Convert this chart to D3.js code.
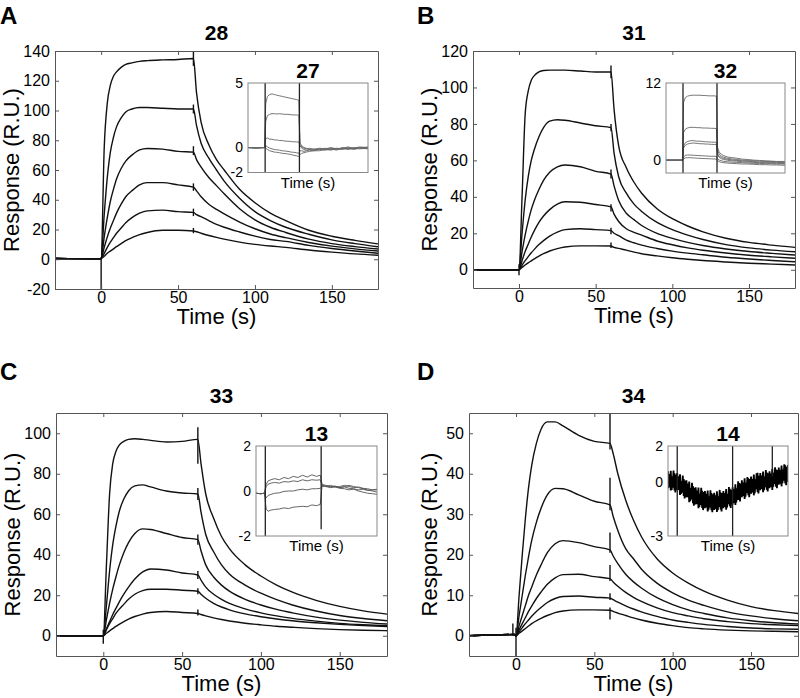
<!DOCTYPE html>
<html><head><meta charset="utf-8">
<script src="https://cdn.jsdelivr.net/npm/d3@7"></script>
<style>
body{margin:0;background:#fff}
svg{display:block}
</style>
</head><body>
<svg id="chart" width="800" height="698"></svg>
<script>
const FONT = '"Liberation Sans", Arial, Helvetica, sans-serif';

// ---------- main sensorgram data ----------
const tMain = [-30,-1,0, 2,4,6,8,10,13,16,20,25,30,40,50,60, 62,65,70,75,80,90,100,110,120,135,150,165,180];
const xTicksMain = [0,50,100,150];

const curves28 = [
  [0.5,0.3,0.5, 75,105,117,123,126,129,131,132,133,133.5,134,134.3,135, 112,92,77,67,60,47,38,31,26,19.5,15.5,12.7,10.3],
  [0.5,0.3,0.5, 30,55,72,82,89,95,99,101,102,102,101.5,101,101, 90,78,68,60,52.5,41,32,26,21.5,16.8,13,10.5,8.4],
  [0.5,0.3,0.5, 15,28,39,47,54,61,66,70,73.5,74.5,74,72.5,72, 67,62,55,49.5,44,34,26.5,21.5,18,13.5,10.5,8.5,6.9],
  [0.5,0.3,0.5, 8,15,21,26,31,37,42,46,50,51.5,51.5,50,48.5, 46,42,37,33.5,30.5,25,20.5,17,14.5,11.3,8.8,7,5.5],
  [0.5,0.3,0.5, 4,8,11.5,14.5,17.5,21,24.5,28,31,32.5,33,32,31.5, 30,28.6,26,23.5,21.5,18.3,15.5,13.3,12,9.3,7.2,5.5,4.0],
  [0.5,0.3,0.5, 2,4,5.5,7,8.5,10.5,12.5,14.5,16.5,18,19.5,19.5,19, 18.5,17.5,16,14.7,13.5,11.5,10,8.9,8,6.2,4.8,3.6,2.7]
];
const curves31 = [
  [0,0,0, 40,85,98,104,106.5,108.5,109.3,109.5,109.5,109.5,109,108.5,108.5, 88,68,56,48,42,33.5,28,24,20.8,17.3,15,13.5,12.3],
  [0,0,0, 20,38,51,60,66,73,78,81.5,82.3,82,80.5,79,78, 64,51,42,36,32,26,22,19,16.6,13.8,12,10.8,9.9],
  [0,0,0, 10,19,26.5,33,38,44,49,53.5,56.5,57.5,56.5,54,52.5, 46,38,31,27.5,24.3,20,17.2,15,13.3,11.4,10,9,8.1],
  [0,0,0, 5,10,14,18,21.5,26,29.5,33,36,37.3,37,35.8,34.5, 30.5,26.5,22.5,20.5,19,15.8,13.7,12,10.7,9.2,8,7.1,6.3],
  [0,0,0, 2.5,5,7.2,9.3,11.2,13.8,16,18.5,20.7,22,22.5,22,21.5, 20,18.7,16.2,14.8,13.5,11.7,10.2,9.1,8.2,6.9,5.9,5.1,4.4],
  [0,0,0, 1.3,2.6,3.8,4.9,6,7.5,8.8,10.3,11.6,12.5,13.1,13.1,13, 12.3,11.7,10.8,9.7,8.8,7.6,6.6,5.8,5.1,4.3,3.6,3.1,2.6]
];
const curves33 = [
  [0,0,0, 35,70,85,91,94,96,97,97.3,97,96.5,95.7,96,97, 85,70,58,49,43,35,29.5,25,21.5,17.5,14.5,12.3,10.7],
  [0,0,0, 15,32,45,54,61,67.5,71.5,74,74.5,73.5,71.5,70.5,70, 61,50,41.5,35,30.5,25,21,17.8,15.2,12.2,10,8.5,7.4],
  [0,0,0, 8,16,23,29,34.5,41,46,50.5,52.8,52.5,50.5,48.5,47.5, 42,35,29,25,22,18,15.2,13,11.3,9.2,7.7,6.6,5.8],
  [0,0,0, 3.5,7,10.5,13.5,16.5,20.5,24,28,31.5,33,32.5,31,30, 27.5,24,20.5,18,16,13.3,11.3,9.8,8.6,7.2,6.1,5.4,4.9],
  [0,0,0, 3,6,8.5,11,13,15.5,18,20.5,22.3,23,23,22.5,22, 20.5,18.5,16,14.2,12.8,10.8,9.4,8.3,7.4,6.4,5.6,5,4.6],
  [0,0,0, 1.2,2.4,3.5,4.6,5.6,7,8.2,9.5,10.7,11.5,12,11.5,11, 10.5,9.8,8.8,8,7.3,6.2,5.4,4.7,4.2,3.5,3,2.7,2.5]
];
const curves34 = [
  [0,0.3,0, 10,20,29,36.5,42,47.5,51,52.8,52.8,51.8,49.5,48,47.5, 45,40,33.5,28.5,24.5,19,15.5,13,11,8.8,7.2,6.2,5.5],
  [0,0.3,0, 5,10,15,19.5,23.5,28,31.5,34.8,36.4,36.3,34.8,33.2,32.3, 29.5,26,21.5,19,16.5,13,10.6,8.8,7.5,5.9,4.9,4.2,3.7],
  [0,0.3,0, 2.5,5,7.5,10,12,15,17.5,20.5,22.7,23.5,23,22,21.2, 19.7,17.8,15.2,13.3,11.8,9.4,7.7,6.4,5.5,4.4,3.7,3.2,2.9],
  [0,0.3,0, 1.5,3,4.5,6,7.3,9.2,10.8,12.7,14.3,15.1,15.2,14.6,14.1, 13.3,12.2,10.7,9.5,8.5,6.9,5.7,4.9,4.2,3.5,3,2.7,2.5],
  [0,0.3,0, 1,2,3,3.9,4.8,6,7,8.2,9.2,9.7,9.8,9.5,9.3, 8.9,8.3,7.4,6.6,5.9,4.8,3.9,3.3,2.8,2.3,1.9,1.7,1.6],
  [0,0.3,0, 0.6,1.2,1.8,2.4,3,3.7,4.3,5,5.7,6.1,6.4,6.4,6.3, 6,5.6,5,4.4,3.9,3.1,2.5,2,1.7,1.4,1.2,1.1,1.0]
];
// injection artefacts: [time, from, to]
const spikes28 = [[0,-20,1],[60,130,140],[60,98,104],[60,70,76],[60,46,51],[60,29,34],[60,17.5,21]];
const spikes31 = [[0,-3,3],[60,105,112],[60,76,80],[60,50,55],[60,32,36],[60,19.5,23],[60,12,15]];
const spikes33 = [[0,-4,3],[60,85,103],[60,67,73],[60,45,50],[60,28,32],[60,20.5,23.5],[60,10,13]];
const spikes34 = [[-2,0,3],[0,-5,2],[60,46,55],[60,31,39],[60,20.5,25.5],[60,13.5,17.5],[60,8.8,10.5],[60,4,7]];

const yTicks28 = [-20,0,20,40,60,80,100,120,140];
const yTicks31 = [0,20,40,60,80,100,120];
const yTicks33 = [0,20,40,60,80,100];
const yTicks34 = [0,10,20,30,40,50];

// ---------- inset data ----------
const tInsetAB = [-30,-15,-1, 1,4,8,12,16,20,25,30,35,40,45,50,55,59, 61,64,68,72,78,85,95,105,115,125,135,145,155,165,180];
const inset27 = [
  [-0.05,-0.08,-0.05, 3.4,3.95,4.1,4.15,4.1,4.05,4.0,3.95,3.9,3.85,3.8,3.75,3.7,3.65, 0.2,0.0,-0.1,-0.15,-0.1,-0.2,-0.1,-0.15,-0.05,-0.15,-0.1,0.0,-0.1,0.0,-0.05],
  [-0.05,-0.08,-0.05, 2.0,2.45,2.55,2.6,2.6,2.58,2.6,2.57,2.55,2.55,2.52,2.5,2.5,2.48, 0.3,0.1,-0.05,-0.1,-0.2,-0.15,-0.2,-0.1,-0.2,-0.1,-0.15,-0.05,-0.15,-0.05,-0.1],
  [-0.05,-0.08,-0.05, 0.65,0.7,0.6,0.6,0.55,0.55,0.5,0.5,0.45,0.45,0.42,0.4,0.4,0.38, 0.1,-0.1,-0.2,-0.25,-0.2,-0.25,-0.15,-0.2,-0.1,-0.2,-0.05,-0.15,-0.05,-0.1,0.0],
  [-0.05,-0.08,-0.05, 0.1,0.0,-0.1,-0.15,-0.2,-0.22,-0.25,-0.3,-0.32,-0.35,-0.4,-0.42,-0.45,-0.5, -0.3,-0.3,-0.35,-0.3,-0.25,-0.3,-0.2,-0.25,-0.15,-0.25,-0.1,-0.2,-0.1,-0.15,-0.1],
  [-0.05,-0.08,-0.05, -0.1,-0.2,-0.3,-0.35,-0.4,-0.42,-0.45,-0.5,-0.52,-0.55,-0.6,-0.65,-0.7,-0.75, -0.6,-0.5,-0.45,-0.4,-0.35,-0.3,-0.3,-0.2,-0.25,-0.15,-0.2,-0.1,-0.2,-0.1,-0.15]
];
const inset32 = [
  [0,0,0, 9.0,9.7,9.95,10.05,10.1,10.1,10.1,10.1,10.05,10.05,10.0,10.0,10.0,9.95, 2.0,1.2,0.9,0.7,0.5,0.4,0.3,0.15,0.1,0.0,-0.05,-0.1,-0.15,-0.2,-0.2],
  [0,0,0, 4.3,4.8,5.0,5.1,5.1,5.1,5.05,5.05,5.0,5.0,4.98,4.95,4.95,4.9, 1.5,0.9,0.6,0.45,0.3,0.2,0.1,0.0,-0.05,-0.1,-0.15,-0.2,-0.2,-0.25,-0.3],
  [0,0,0, 2.2,2.7,2.9,3.0,3.05,3.0,2.95,2.95,2.9,2.85,2.85,2.8,2.8,2.75, 1.0,0.6,0.4,0.25,0.15,0.05,-0.05,-0.1,-0.2,-0.2,-0.3,-0.3,-0.35,-0.35,-0.4],
  [0,0,0, 1.9,2.3,2.5,2.6,2.65,2.65,2.6,2.55,2.55,2.5,2.5,2.45,2.45,2.4, 0.8,0.4,0.2,0.1,0.0,-0.1,-0.15,-0.25,-0.3,-0.35,-0.4,-0.4,-0.45,-0.5,-0.5],
  [0,0,0, 0.5,0.75,0.8,0.8,0.78,0.75,0.72,0.7,0.68,0.65,0.62,0.6,0.6,0.58, 0.2,0.0,-0.1,-0.2,-0.25,-0.3,-0.35,-0.4,-0.45,-0.5,-0.5,-0.55,-0.55,-0.6,-0.6],
  [0,0,0, 0.2,0.35,0.38,0.38,0.36,0.34,0.3,0.28,0.26,0.24,0.22,0.2,0.18,0.15, -0.1,-0.25,-0.35,-0.4,-0.45,-0.5,-0.55,-0.6,-0.6,-0.65,-0.7,-0.7,-0.75,-0.75,-0.8]
];
const tInsetC = [-10,-5,-1, 1,3,6,10,15,20,25,30,35,40,45,50,55,59, 61,65,70,75,80,85,90,95,100,105,110,115,120];
const inset13 = [
  [-0.1,-0.12,-0.1, 0.3,0.45,0.5,0.55,0.5,0.6,0.55,0.65,0.6,0.7,0.62,0.72,0.65,0.7, 0.3,0.25,0.2,0.22,0.15,0.2,0.25,0.2,0.15,0.1,0.05,0.0,-0.05],
  [-0.1,-0.12,-0.1, 0.2,0.3,0.35,0.38,0.35,0.42,0.4,0.45,0.42,0.5,0.45,0.5,0.48,0.5, 0.25,0.2,0.25,0.18,0.2,0.25,0.2,0.15,0.18,0.12,0.1,0.05,0.05],
  [-0.1,-0.12,-0.1, -0.3,-0.2,-0.15,-0.1,-0.08,-0.02,0.0,0.0,0.05,0.08,0.05,0.1,0.1,0.12, 0.2,0.22,0.18,0.2,0.15,0.18,0.12,0.1,0.05,0.08,0.02,0.05,0.08],
  [-0.1,-0.12,-0.1, -0.8,-0.9,-0.85,-0.82,-0.8,-0.75,-0.78,-0.72,-0.7,-0.68,-0.7,-0.62,-0.65,-0.6, 0.25,0.2,0.15,0.18,0.12,0.1,0.05,0.08,0.0,-0.05,-0.1,-0.12,-0.15]
];
const tInsetD = d3.range(-10, 121);
const inset14a = [0.6,-0.3,0.38,-0.47,0.26,-0.25,0.64,-0.47,0.42,-0.19,
  0.5,-0.44,0.22,-0.72,0.04,-0.5,0.36,-0.78,0.08,-0.56,
  0.1,-0.84,-0.18,-1.12,-0.36,-0.9,-0.04,-1.18,-0.32,-0.96,
  -0.3,-1.22,-0.54,-1.46,-0.68,-1.2,-0.32,-1.44,-0.56,-1.18,
  -0.5,-1.41,-0.72,-1.63,-0.84,-1.35,-0.46,-1.57,-0.68,-1.29,
  -0.6,-1.49,-0.78,-1.67,-0.86,-1.35,-0.44,-1.53,-0.62,-1.21,
  -0.5,-1.38,-0.66,-1.54,-0.72,-1.2,-0.28,-1.34,-0.44,-1.02,
  -0.3,-1.16,-0.42,-1.28,-0.44,-0.9,0.04,-0.98,-0.08,-0.64,
  0.1,-0.78,-0.06,-0.94,-0.12,-0.6,0.28,-0.74,0.16,-0.42,
  0.3,-0.58,0.14,-0.74,0.08,-0.4,0.48,-0.56,0.34,-0.22,
  0.5,-0.39,0.32,-0.57,0.24,-0.25,0.66,-0.43,0.48,-0.11,
  0.6,-0.28,0.44,-0.44,0.38,-0.1,0.82,-0.26,0.66,0.08,
  0.8,-0.09,0.64,-0.24,0.56,0.08,0.99,-0.08,0.84,0.24,0.95];
const inset14b = [-0.35,0.44,-0.12,0.62,-0.44,0.3,-0.31,0.48,-0.58,0.31,
  -0.45,0.31,-0.28,0.43,-0.66,0.05,-0.59,0.17,-0.92,-0.06,
  -0.85,-0.09,-0.68,0.03,-1.06,-0.35,-0.97,-0.23,-1.32,-0.46,
  -1.25,-0.47,-1.04,-0.31,-1.38,-0.65,-1.27,-0.49,-1.56,-0.68,
  -1.45,-0.66,-1.22,-0.48,-1.54,-0.8,-1.41,-0.62,-1.68,-0.79,
  -1.55,-0.74,-1.28,-0.52,-1.56,-0.8,-1.39,-0.58,-1.64,-0.71,
  -1.45,-0.63,-1.16,-0.39,-1.42,-0.65,-1.23,-0.38,-1.44,-0.52,
  -1.25,-0.41,-0.92,-0.13,-1.14,-0.35,-0.99,-0.06,-1.08,-0.14,
  -0.85,-0.03,-0.56,0.21,-0.82,-0.05,-0.61,0.21,-0.84,0.08,
  -0.65,0.17,-0.36,0.41,-0.62,0.15,-0.39,0.51,-0.64,0.28,
  -0.45,0.36,-0.18,0.58,-0.46,0.3,-0.29,0.52,-0.52,0.39,
  -0.35,0.47,-0.06,0.73,-0.26,0.51,-0.11,0.69,-0.34,0.58,
  -0.15,0.66,0.14,0.91,-0.06,0.69,0.11,0.93,-0.18,0.74,0.0];
const marks27 = [[0,-2,5],[60,-2,5]];
const marks32 = [[0,-2,12],[60,-2,12]];
const marks13 = [[0,-2,2],[60,-1.7,2]];
const marks14 = [[0,-3,2],[60,-3,2],[103,0.3,2]];

// ---------- layout ----------
const panels = [
  {letter:'A', lx:0, ly:24, title:'28', frame:[55,51,378,289], yDomain:[-20,140], yTicks:yTicks28, curves:curves28, spikes:spikes28, ylabX:19,
   inset:{title:'27', frame:[248,83,368,172.5], xDomain:[-30,180], yDomain:[-2,5], yTicks:[-2,0,5], t:tInsetAB, lines:inset27, marks:marks27, color:'#666'}},
  {letter:'B', lx:417, ly:24, title:'31', frame:[473,51,795,288], yDomain:[-10,120], yTicks:yTicks31, curves:curves31, spikes:spikes31, ylabX:437,
   inset:{title:'32', frame:[666,83,785,173], xDomain:[-30,180], yDomain:[-2,12], yTicks:[0,12], t:tInsetAB, lines:inset32, marks:marks32, color:'#666'}},
  {letter:'C', lx:0, ly:380, title:'33', frame:[56,413,387,656], yDomain:[-10,110], yTicks:yTicks33, curves:curves33, spikes:spikes33, ylabX:20,
   inset:{title:'13', frame:[256,446,377,536], xDomain:[-10,120], yDomain:[-2,2], yTicks:[-2,0,2], t:tInsetC, lines:inset13, marks:marks13, color:'#555'}},
  {letter:'D', lx:417, ly:380, title:'34', frame:[469,413,798,656], yDomain:[-5,55], yTicks:yTicks34, curves:curves34, spikes:spikes34, ylabX:437,
   inset:{title:'14', frame:[668,446,788,536], xDomain:[-10,120], yDomain:[-3,2], yTicks:[-3,0,2], t:tInsetD, lines:[inset14a, inset14b], marks:marks14, color:'#000'}}
];

const fmt = d => String(d);
const svg = d3.select('#chart');
const defs = svg.append('defs');

function styleAxis(g, size) {
  g.attr('font-family', FONT).attr('font-size', size);
  g.selectAll('.domain').attr('stroke', '#555').attr('stroke-width', 1);
  g.selectAll('.tick line').attr('stroke', '#555');
  g.selectAll('text').attr('fill', '#000');
}

panels.forEach((p, pi) => {
  const [x0, y0, x1, y1] = p.frame;
  const x = d3.scaleLinear().domain([-30, 180]).range([x0, x1]);
  const y = d3.scaleLinear().domain(p.yDomain).range([y1, y0]);
  const g = svg.append('g');

  // panel letter and title
  g.append('text').attr('x', p.lx).attr('y', p.ly).text(p.letter)
    .attr('font-family', FONT).attr('font-weight', 'bold').attr('font-size', 24);
  g.append('text').attr('x', (x0 + x1) / 2).attr('y', pi < 2 ? 40 : 403).attr('text-anchor', 'middle')
    .text(p.title).attr('font-family', FONT).attr('font-weight', 'bold').attr('font-size', 21);

  // curves (clipped)
  const cid = 'clip' + pi;
  defs.append('clipPath').attr('id', cid).append('rect')
    .attr('x', x0).attr('y', y0).attr('width', x1 - x0).attr('height', y1 - y0);
  const cg = g.append('g').attr('clip-path', `url(#${cid})`);
  const line = d3.line().x((d, i) => x(tMain[i])).y(d => y(d)).curve(d3.curveMonotoneX);
  cg.selectAll('path.curve').data(p.curves).join('path').attr('class', 'curve')
    .attr('d', line).attr('fill', 'none').attr('stroke', '#111').attr('stroke-width', 1.4);
  cg.selectAll('line.spike').data(p.spikes).join('line').attr('class', 'spike')
    .attr('x1', d => x(d[0])).attr('x2', d => x(d[0]))
    .attr('y1', d => y(d[1])).attr('y2', d => y(d[2]))
    .attr('stroke', '#111').attr('stroke-width', 1.4);

  // axes (inward ticks on all sides)
  const ax = g.append('g').attr('transform', `translate(0,${y1})`)
    .call(d3.axisBottom(x).tickValues(xTicksMain).tickFormat(fmt).tickSizeInner(-4).tickSizeOuter(0).tickPadding(3));
  styleAxis(ax, 16);
  const axT = g.append('g').attr('transform', `translate(0,${y0})`)
    .call(d3.axisTop(x).tickValues(xTicksMain).tickSizeInner(-4).tickSizeOuter(0).tickFormat(''));
  styleAxis(axT, 16);
  const ay = g.append('g').attr('transform', `translate(${x0},0)`)
    .call(d3.axisLeft(y).tickValues(p.yTicks).tickFormat(fmt).tickSizeInner(-4).tickSizeOuter(0).tickPadding(5));
  styleAxis(ay, 16);
  const ayR = g.append('g').attr('transform', `translate(${x1},0)`)
    .call(d3.axisRight(y).tickValues(p.yTicks).tickSizeInner(-4).tickSizeOuter(0).tickFormat(''));
  styleAxis(ayR, 16);

  // axis labels
  g.append('text').attr('x', (x0 + x1) / 2).attr('y', y1 + 35).attr('text-anchor', 'middle')
    .text('Time (s)').attr('font-family', FONT).attr('font-size', 22);
  g.append('text').attr('transform', `translate(${p.ylabX},${(y0 + y1) / 2}) rotate(-90)`)
    .attr('text-anchor', 'middle').text('Response (R.U.)').attr('font-family', FONT).attr('font-size', 22);

  // inset
  const ins = p.inset;
  const [ix0, iy0, ix1, iy1] = ins.frame;
  const ixs = d3.scaleLinear().domain(ins.xDomain).range([ix0, ix1]);
  const iys = d3.scaleLinear().domain(ins.yDomain).range([iy1, iy0]);
  const ig = g.append('g');
  ig.append('rect').attr('x', ix0).attr('y', iy0).attr('width', ix1 - ix0).attr('height', iy1 - iy0)
    .attr('fill', '#fff');
  const icid = 'iclip' + pi;
  defs.append('clipPath').attr('id', icid).append('rect')
    .attr('x', ix0).attr('y', iy0).attr('width', ix1 - ix0).attr('height', iy1 - iy0);
  const icg = ig.append('g').attr('clip-path', `url(#${icid})`);
  const iline = d3.line().x((d, i) => ixs(ins.t[i])).y(d => iys(d));
  icg.selectAll('path.il').data(ins.lines).join('path').attr('class', 'il')
    .attr('d', iline).attr('fill', 'none').attr('stroke', ins.color)
    .attr('stroke-width', pi === 3 ? 1.8 : 0.9);
  icg.selectAll('line.im').data(ins.marks).join('line').attr('class', 'im')
    .attr('x1', d => ixs(d[0])).attr('x2', d => ixs(d[0]))
    .attr('y1', d => iys(d[1])).attr('y2', d => iys(d[2]))
    .attr('stroke', '#222').attr('stroke-width', 1.3);
  ig.append('rect').attr('x', ix0).attr('y', iy0).attr('width', ix1 - ix0).attr('height', iy1 - iy0)
    .attr('fill', 'none').attr('stroke', '#888').attr('stroke-width', 1);
  const iay = ig.append('g').attr('transform', `translate(${ix0},0)`)
    .call(d3.axisLeft(iys).tickValues(ins.yTicks).tickFormat(fmt).tickSize(0).tickPadding(5));
  iay.select('.domain').remove();
  iay.attr('font-family', FONT).attr('font-size', 14);
  iay.selectAll('text').attr('fill', '#000');
  ig.append('text').attr('x', (ix0 + ix1) / 2).attr('y', iy0 - 5).attr('text-anchor', 'middle')
    .text(ins.title).attr('font-family', FONT).attr('font-weight', 'bold').attr('font-size', 21);
  ig.append('text').attr('x', (ix0 + ix1) / 2).attr('y', iy1 + 15).attr('text-anchor', 'middle')
    .text('Time (s)').attr('font-family', FONT).attr('font-size', 15);
});
</script>
</body></html>
